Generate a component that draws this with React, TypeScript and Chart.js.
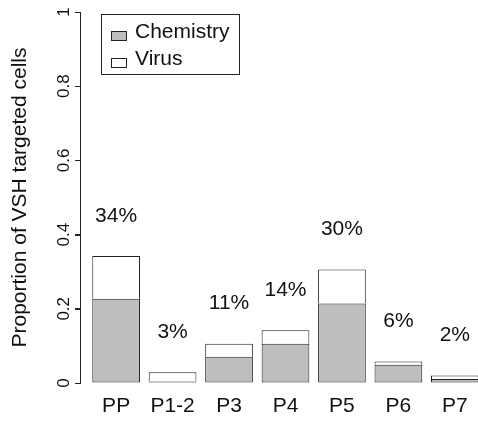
import React, { useEffect, useRef, useState } from "react";
import { Chart, registerables } from "chart.js";

Chart.register(...registerables);

const categories = ["PP", "P1-2", "P3", "P4", "P5", "P6", "P7"];
const chemistry = [0.227, 0.004, 0.071, 0.106, 0.214, 0.049, 0.011];
const virus = [0.115, 0.025, 0.035, 0.036, 0.092, 0.009, 0.0095];
const percentLabels = ["34%", "3%", "11%", "14%", "30%", "6%", "2%"];
const yTicks = [0, 0.2, 0.4, 0.6, 0.8, 1];
const yTickLabels = ["0", "0.2", "0.4", "0.6", "0.8", "1"];
const seriesNames = ["Chemistry", "Virus"];
const yTitle = "Proportion of VSH targeted cells";

const FONT = "'Liberation Sans', Arial, Helvetica, sans-serif";
const TEXT = "#111";
const EDGE = "#222";
const GREY = "#BEBEBE";
const X_MIN = -0.64;
const X_MAX = 6.41;

// R-style y axis: line from first to last tick, outward tick marks, labels parallel to the axis
const yAxisPlugin = {
  id: "rStyleYAxis",
  afterDraw(chart: any) {
    const { ctx } = chart;
    const y = chart.scales.y;
    const ax = Math.round(y.right) + 0.5;
    ctx.save();
    ctx.strokeStyle = EDGE;
    ctx.lineWidth = 1;
    ctx.beginPath();
    ctx.moveTo(ax, Math.round(y.getPixelForValue(yTicks[0])) + 0.5);
    ctx.lineTo(ax, Math.round(y.getPixelForValue(yTicks[yTicks.length - 1])) + 0.5);
    yTicks.forEach((v) => {
      const py = Math.round(y.getPixelForValue(v)) + 0.5;
      ctx.moveTo(ax - 5.5, py);
      ctx.lineTo(ax, py);
    });
    ctx.stroke();
    ctx.restore();

    ctx.save();
    ctx.font = `17px ${FONT}`;
    ctx.fillStyle = TEXT;
    ctx.textAlign = "center";
    ctx.textBaseline = "middle";
    yTicks.forEach((v, i) => {
      const py = y.getPixelForValue(v);
      ctx.save();
      ctx.translate(y.right - 16, py);
      ctx.rotate(-Math.PI / 2);
      ctx.fillText(yTickLabels[i], 0, 0);
      ctx.restore();
    });
    ctx.restore();
  },
};

const pctPlugin = {
  id: "pctLabels",
  afterDatasetsDraw(chart: any) {
    const { ctx } = chart;
    const meta = chart.getDatasetMeta(1);
    ctx.save();
    ctx.font = `21px ${FONT}`;
    ctx.fillStyle = TEXT;
    ctx.textAlign = "center";
    ctx.textBaseline = "middle";
    meta.data.forEach((el: any, i: number) => {
      ctx.fillText(percentLabels[i], el.x, el.y - 40);
    });
    ctx.restore();
  },
};

const legendPlugin = {
  id: "boxLegend",
  afterDraw(chart: any) {
    const { ctx, chartArea } = chart;
    const bx = chartArea.left + 21;
    const by = chartArea.top + 2;
    const bw = 138;
    const bh = 60;
    ctx.save();
    ctx.lineWidth = 1;
    ctx.strokeStyle = EDGE;
    ctx.strokeRect(Math.round(bx) + 0.5, Math.round(by) + 0.5, bw, bh);
    ctx.font = `21px ${FONT}`;
    ctx.textAlign = "left";
    ctx.textBaseline = "middle";
    chart.data.datasets.forEach((ds: any, i: number) => {
      const cy = by + 21 + i * 26.5;
      ctx.fillStyle = ds.backgroundColor;
      ctx.fillRect(Math.round(bx + 10), Math.round(cy - 4), 15, 9);
      ctx.strokeStyle = EDGE;
      ctx.strokeRect(Math.round(bx + 10) + 0.5, Math.round(cy - 4) + 0.5, 15, 9);
      ctx.fillStyle = TEXT;
      ctx.fillText(ds.label, bx + 34, cy - 2.5);
    });
    ctx.restore();
  },
};

export default function App() {
  const ref = useRef<HTMLCanvasElement | null>(null);
  const [, setReady] = useState(false);

  useEffect(() => {
    if (!ref.current) return;
    Chart.defaults.font.family = FONT;
    const chart = new Chart(ref.current, {
      type: "bar",
      data: {
        datasets: [
          {
            label: seriesNames[0],
            data: categories.map((_, i) => ({ x: i, y: chemistry[i] })),
            backgroundColor: GREY,
            borderColor: EDGE,
            borderWidth: 1,
            borderSkipped: false,
          },
          {
            label: seriesNames[1],
            data: categories.map((_, i) => ({ x: i, y: virus[i] })),
            backgroundColor: "#FFFFFF",
            borderColor: EDGE,
            borderWidth: 1,
            borderSkipped: "bottom",
          },
        ],
      } as any,
      options: {
        animation: false,
        responsive: false,
        layout: { padding: { top: 12 } },
        datasets: { bar: { categoryPercentage: 1, barPercentage: 0.845 } },
        plugins: { legend: { display: false }, tooltip: { enabled: false } },
        scales: {
          x: {
            type: "linear",
            offset: false,
            bounds: "data",
            min: X_MIN,
            max: X_MAX,
            stacked: true,
            grid: { display: false, offset: false, drawTicks: false },
            border: { display: false },
            afterBuildTicks: (s: any) => {
              s.ticks = categories.map((_, i) => ({ value: i }));
              s.min = X_MIN;
              s.max = X_MAX;
            },
            afterFit: (s: any) => {
              s.height = 39;
              s.paddingLeft = 0;
              s.paddingRight = 0;
            },
            ticks: {
              callback: (v: any) => categories[v] ?? "",
              font: { size: 21 },
              color: TEXT,
              padding: 11,
              maxRotation: 0,
              autoSkip: false,
            },
          },
          y: {
            min: 0,
            max: 1,
            stacked: true,
            ticks: { display: false, stepSize: 0.2 },
            grid: { drawOnChartArea: false, tickLength: 5, color: EDGE },
            border: { display: true, color: EDGE },
            title: {
              display: true,
              text: yTitle,
              font: { size: 21 },
              color: TEXT,
              padding: { top: 8, bottom: 0 },
            },
            afterFit: (s: any) => {
              s.width = 80;
            },
          },
        },
      } as any,
      plugins: [pctPlugin, legendPlugin, yAxisPlugin],
    });
    setReady(true);
    return () => chart.destroy();
  }, []);

  return (
    <div
      style={{
        position: "fixed",
        left: 0,
        top: 0,
        width: 478,
        height: 422,
        overflow: "hidden",
        background: "#fff",
      }}
    >
      <canvas ref={ref} width={478} height={422} style={{ display: "block" }} />
    </div>
  );
}
